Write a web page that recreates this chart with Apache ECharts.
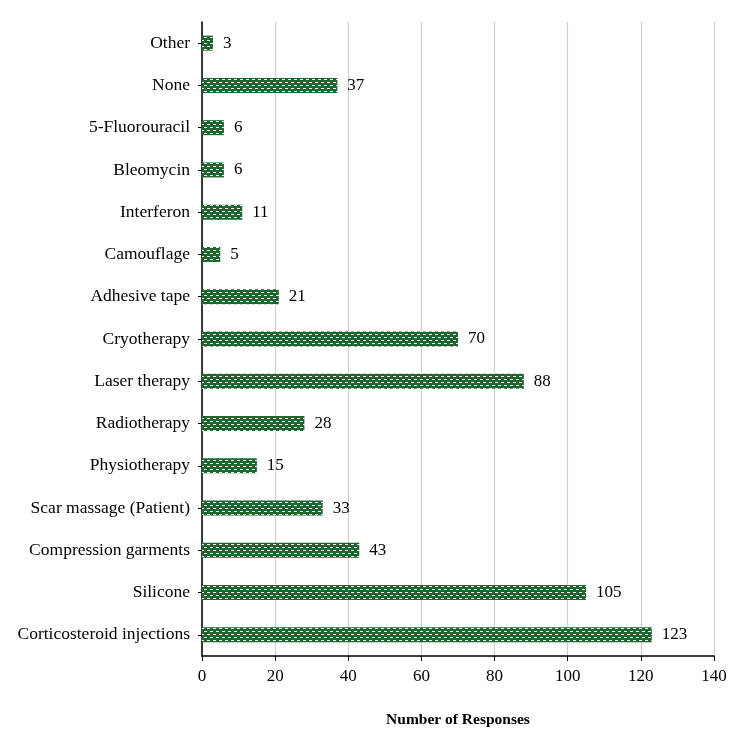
<!DOCTYPE html>
<html>
<head>
<meta charset="utf-8">
<script src="https://cdn.jsdelivr.net/npm/echarts@6/dist/echarts.min.js"></script>
<style>
  html, body { margin: 0; padding: 0; background: #fff; }
  #chart { width: 750px; height: 738px; }
</style>
</head>
<body>
<div id="chart"></div>
<script>
  // categories from bottom to top
  const categories = ['Corticosteroid injections', 'Silicone', 'Compression garments', 'Scar massage (Patient)',
    'Physiotherapy', 'Radiotherapy', 'Laser therapy', 'Cryotherapy', 'Adhesive tape', 'Camouflage',
    'Interferon', 'Bleomycin', '5-Fluorouracil', 'None', 'Other']
  const responses = [123, 105, 43, 33, 15, 28, 88, 70, 21, 5, 11, 6, 6, 37, 3]
  const xTicks = [0, 20, 40, 60, 80, 100, 120, 140]

  // small dotted texture like the original bars
  function makePattern () {
    const c = document.createElement('canvas')
    c.width = 6
    c.height = 6
    const ctx = c.getContext('2d')
    ctx.fillStyle = '#1f6530'
    ctx.fillRect(0, 0, 6, 6)
    ctx.fillStyle = '#f2f6f2'
    ctx.fillRect(0, 1, 3, 1)
    ctx.fillRect(3, 4, 3, 1)
    return c
  }

  const font = 'Liberation Serif'
  const myChart = echarts.init(document.getElementById('chart'))
  const option = {
    animation: false,
    textStyle: { fontFamily: font },
    grid: { left: 202, right: 36, top: 22, bottom: 82 },
    xAxis: {
      type: 'value',
      min: xTicks[0],
      max: xTicks[xTicks.length - 1],
      interval: 20,
      name: 'Number of Responses',
      nameLocation: 'middle',
      nameGap: 56,
      nameTextStyle: { fontFamily: font, fontSize: 15.5, fontWeight: 'bold', color: '#000' },
      axisLine: { show: true, lineStyle: { color: '#000', width: 1.5 } },
      axisTick: { show: true, length: 5, lineStyle: { color: '#000' } },
      axisLabel: { fontFamily: font, fontSize: 17, color: '#000', margin: 12 },
      splitLine: { show: true, lineStyle: { color: '#d0d0d0', width: 1.2 } }
    },
    yAxis: {
      type: 'category',
      data: categories,
      axisLine: { show: true, lineStyle: { color: '#000', width: 1.5 } },
      axisTick: { show: true, alignWithLabel: true, length: 4, lineStyle: { color: '#000' } },
      axisLabel: { fontFamily: font, fontSize: 17.5, color: '#000', margin: 12 },
      splitLine: { show: false }
    },
    series: [
      {
        type: 'bar',
        data: responses,
        barWidth: 15,
        itemStyle: { color: { image: makePattern(), repeat: 'repeat' } },
        label: {
          show: true,
          position: 'right',
          distance: 10,
          fontFamily: font,
          fontSize: 17,
          color: '#000'
        }
      }
    ]
  }
  myChart.setOption(option)
</script>
</body>
</html>
